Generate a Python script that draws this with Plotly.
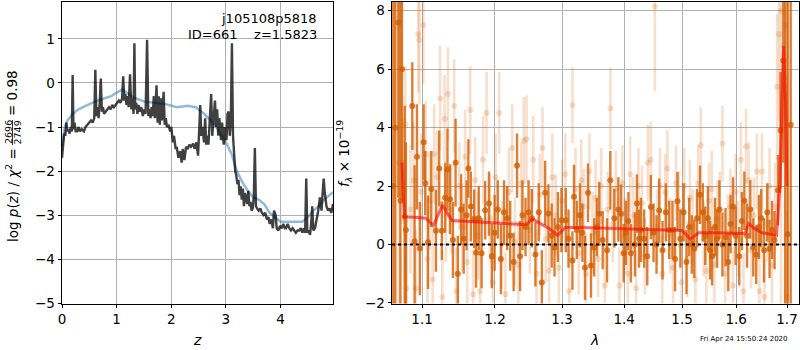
import plotly.graph_objects as go
import math

# ---------------- Left panel: p(z) ----------------
z_pz = [0.00,0.02,0.04,0.06,0.08,0.10,0.12,0.14,0.16,0.18,0.195,0.21,0.23,0.25,0.28,0.30,0.33,0.36,0.40,0.43,
        0.46,0.50,0.53,0.56,0.59,0.61,0.63,0.65,0.67,0.69,0.71,0.73,0.75,0.77,0.80,0.83,0.86,0.89,0.92,0.95,
        0.98,1.01,1.04,1.07,1.10,1.12,1.14,1.16,1.18,1.20,1.22,1.245,1.27,1.29,1.31,1.325,1.34,1.36,1.38,1.40,
        1.42,1.45,1.48,1.50,1.53,1.557,1.58,1.60,1.62,1.64,1.66,1.68,1.70,1.73,1.75,1.77,1.79,1.81,1.83,1.86,
        1.88,1.90,1.92,1.95,1.98,2.00,2.03,2.05,2.08,2.10,2.13,2.16,2.19,2.21,2.24,2.27,2.30,2.33,2.36,2.40,
        2.43,2.46,2.49,2.51,2.53,2.55,2.57,2.60,2.62,2.64,2.66,2.68,2.70,2.73,2.75,2.77,2.80,2.82,2.84,2.86,
        2.88,2.91,2.93,2.96,2.98,3.01,3.03,3.05,3.07,3.09,3.11,3.13,3.15,3.17,3.19,3.21,3.23,3.25,3.27,3.29,
        3.31,3.33,3.35,3.37,3.39,3.41,3.43,3.45,3.47,3.49,3.51,3.53,3.55,3.57,3.60,3.63,3.66,3.69,3.72,3.75,
        3.78,3.80,3.83,3.86,3.88,3.91,3.93,3.96,3.99,4.02,4.05,4.08,4.10,4.13,4.16,4.19,4.22,4.25,4.28,4.31,
        4.34,4.37,4.40,4.43,4.45,4.47,4.49,4.51,4.54,4.56,4.58,4.60,4.63,4.66,4.69,4.72,4.75,4.77,4.79,4.81,
        4.84,4.87,4.90,4.93,4.96]
logpz = [-1.70,-1.30,-1.15,-1.20,-0.90,-1.10,-1.05,-1.15,-1.00,-1.10,0.18,-1.05,-0.90,-1.10,-1.10,-1.00,-1.10,-1.05,-1.10,-1.00,
         -0.95,-0.90,-0.85,-0.90,-0.80,0.30,-0.75,-0.55,-0.80,-0.45,0.10,-0.65,-0.55,-0.70,-0.65,-0.60,-0.55,-0.60,-0.50,-0.55,
         -0.50,-0.45,-0.40,-0.45,-0.35,0.15,-0.40,-0.25,-0.50,-0.30,-0.55,0.20,-0.60,-0.35,-0.70,0.90,-0.60,-0.45,-0.70,-0.50,
         -0.65,-0.55,-0.75,-0.60,-0.70,0.98,-0.75,-0.60,-0.80,-0.55,-0.75,-0.30,-0.80,-0.05,-0.90,-0.30,-0.95,-0.35,-0.85,-0.20,
         -0.95,-0.80,-1.00,-0.95,-1.10,-1.00,-1.35,-1.20,-1.50,-1.45,-1.70,-1.55,-1.81,-1.50,-1.75,-1.45,-1.50,-1.40,-1.45,-1.38,
         -1.50,-1.35,-1.65,-1.10,-0.50,-1.20,-1.00,-1.35,-0.80,-1.40,-1.20,-1.40,-0.80,-0.25,-1.20,-0.90,-0.40,-1.00,-0.60,-1.20,
         -0.80,-1.30,-0.90,-1.40,-1.00,-1.30,-0.70,-0.65,-1.20,-0.90,0.90,-1.20,-1.60,-2.00,-2.10,-2.30,-2.20,-2.55,-2.35,-2.65,
         -2.40,-2.80,-2.50,-2.60,-2.75,-2.45,-2.80,-2.70,-2.90,-2.85,-2.60,-1.48,-2.80,-2.85,-2.90,-2.85,-2.95,-3.00,-2.95,-3.10,
         -3.05,-3.20,-3.10,-3.30,-2.90,-3.00,-3.30,-3.35,-3.25,-3.30,-3.20,-3.30,-3.30,-3.20,-3.30,-3.35,-3.30,-3.35,-3.40,-3.35,
         -3.35,-3.30,-3.40,-3.30,-3.40,-2.17,-3.40,-3.35,-3.45,-3.20,-2.80,-3.35,-3.30,-3.10,-2.90,-2.60,-2.90,-2.50,-2.17,-2.50,
         -2.80,-2.90,-2.85,-2.95,-2.75]

z_prior = [0.00,0.05,0.10,0.20,0.30,0.50,0.70,0.90,1.10,1.30,1.50,1.70,1.90,2.10,2.30,2.45,2.60,2.80,3.00,3.10,
           3.20,3.30,3.40,3.50,3.60,3.70,3.80,3.90,4.00,4.10,4.30,4.40,4.50,4.60,4.70,4.80,4.96]
logp_prior = [-1.45,-1.00,-0.85,-0.70,-0.60,-0.48,-0.38,-0.30,-0.15,-0.32,-0.42,-0.45,-0.48,-0.55,-0.52,-0.55,-0.70,-0.95,-1.35,-1.60,
              -2.00,-2.25,-2.45,-2.60,-2.65,-2.75,-2.95,-3.05,-3.15,-3.15,-3.16,-3.15,-3.05,-2.90,-2.80,-2.65,-2.48]

# ---------------- Right panel: spectrum ----------------
dark_wave = [1.0630,1.0655,1.0694,1.0720,1.0740,1.0775,1.0790,1.0873,1.0903,1.0934,1.0971,1.1021,1.1042,1.1079,1.1122,1.1184,1.1228,1.1263,1.1307,1.1339,
             1.1373,1.1413,1.1449,1.1480,1.1525,1.1560,1.1600,1.1625,1.1660,1.1706,1.1732,1.1770,1.1810,1.1860,1.1914,1.1955,1.1995,1.2040,1.2085,1.2130,
             1.2175,1.2220,1.2270,1.2320,1.2365,1.2400,1.2445,1.2490,1.2540,1.2593,1.2643,1.2690,1.2740,1.2790,1.2840,1.2883,1.2935,1.2990,1.3057,1.3100,
             1.3161,1.3186,1.3230,1.3281,1.3319,1.3360,1.3408,1.3456,1.3508,1.3550,1.3589,1.3645,1.3716,1.3770,1.3836,1.3902,1.3947,1.3990,1.4028,1.4070,
             1.4112,1.4180,1.4214,1.4250,1.4281,1.4337,1.4390,1.4452,1.4498,1.4550,1.4596,1.4655,1.4713,1.4770,1.4830,1.4875,1.4918,1.4970,1.5027,1.5080,
             1.5129,1.5175,1.5220,1.5270,1.5325,1.5375,1.5420,1.5470,1.5510,1.5547,1.5600,1.5640,1.5684,1.5740,1.5797,1.5850,1.5893,1.5940,1.5989,1.6059,
             1.6110,1.6157,1.6209,1.6272,1.6330,1.6387,1.6440,1.6485,1.6540,1.6605,1.6650,1.6700,1.6750,1.6818,1.6870,1.6925,1.6965,1.7014,1.7075]
dark_flux = [2.0,4.0,7.6,1.5,6.0,0.95,0.5,4.74,0.11,3.0,-0.14,3.5,2.1,0.08,1.9,0.47,2.6,0.47,1.6,2.57,
             1.55,0.15,2.8,-1.0,1.2,0.2,1.0,2.6,1.3,0.88,-0.28,0.9,-0.3,1.17,1.4,-0.4,0.4,1.2,-0.5,1.1,
             0.9,0.3,-0.6,2.7,-0.4,1.0,0.6,1.1,0.9,-0.34,1.1,-1.3,1.77,1.06,0.3,-0.1,0.6,0.83,0.83,0.2,
             -0.55,1.63,0.5,1.0,0.4,-0.8,1.77,-0.72,-0.1,0.6,1.05,0.15,-0.2,2.2,0.9,1.2,1.05,-0.3,0.4,0.8,
             -0.3,0.0,1.4,0.2,0.5,0.2,-0.4,1.28,0.4,0.0,1.16,-0.2,1.1,0.5,0.5,-0.5,1.48,0.2,1.1,-0.6,
             0.6,0.0,-0.15,0.9,1.7,1.1,0.3,0.9,-0.2,-0.4,0.6,0.2,1.2,0.0,0.25,-0.6,0.7,1.3,0.3,-0.4,
             0.8,1.5,0.3,1.2,-0.1,-0.35,0.6,0.9,-0.2,1.1,-0.15,0.5,0.15,1.86,3.9,6.3,9.0,0.35,4.1]
dark_err = [15,15,6,15,4.5,3.8,3.0,1.5,2.6,1.8,1.6,1.3,1.1,1.6,1.3,1.4,1.3,1.0,1.2,1.4,
            1.2,1.3,1.5,1.3,1.2,1.2,1.2,1.0,1.2,1.0,1.2,1.1,1.2,1.0,1.1,1.1,1.3,1.0,1.2,1.1,
            1.1,1.2,1.0,1.1,1.2,1.2,1.0,1.1,1.0,1.1,1.0,1.1,1.1,1.0,1.1,1.0,1.2,1.1,1.1,1.0,
            1.0,1.1,1.0,1.1,1.0,1.1,1.0,1.1,1.0,1.0,1.1,1.0,1.1,1.0,1.0,1.1,1.0,1.0,1.1,1.0,
            1.0,1.1,1.0,1.0,1.1,1.0,1.0,1.1,1.0,1.0,1.1,1.0,1.0,1.0,1.0,1.1,1.0,1.0,1.0,1.1,
            1.0,1.0,1.0,1.0,1.0,1.0,1.0,1.1,1.0,1.0,1.0,1.0,1.0,1.1,1.0,1.0,1.0,1.0,1.0,1.0,
            1.0,1.0,1.1,1.0,1.0,1.0,1.1,1.0,1.1,1.0,1.0,1.0,1.0,1.2,2.0,3.5,12,12,12]

light_wave = [1.0700,1.0759,1.0780,1.0800,1.0783,1.0850,1.0890,1.0920,1.0950,1.0965,1.0990,1.1017,1.1050,1.1070,1.1100,1.1140,1.1160,1.1200,1.1240,1.1270,
              1.1300,1.1320,1.1345,1.1390,1.1430,1.1460,1.1500,1.1540,1.1580,1.1610,1.1650,1.1690,1.1720,1.1760,1.1790,1.1830,1.1880,1.1930,1.1970,1.2010,
              1.2060,1.2100,1.2150,1.2200,1.2250,1.2290,1.2340,1.2380,1.2420,1.2460,1.2510,1.2560,1.2610,1.2660,1.2700,1.2750,1.2800,1.2850,1.2900,1.2950,
              1.3000,1.3050,1.3110,1.3163,1.3210,1.3260,1.3300,1.3340,1.3380,1.3430,1.3480,1.3530,1.3570,1.3620,1.3680,1.3730,1.3772,1.3810,1.3860,1.3920,
              1.3970,1.4010,1.4060,1.4100,1.4150,1.4200,1.4240,1.4300,1.4350,1.4400,1.4450,1.4522,1.4560,1.4610,1.4650,1.4700,1.4740,1.4790,1.4840,1.4890,
              1.4940,1.4990,1.5040,1.5090,1.5140,1.5190,1.5240,1.5290,1.5340,1.5390,1.5440,1.5490,1.5540,1.5590,1.5640,1.5690,1.5740,1.5790,1.5840,1.5890,
              1.5940,1.5990,1.6040,1.6090,1.6140,1.6190,1.6240,1.6290,1.6340,1.6400,1.6450,1.6500,1.6550,1.6600,1.6650,1.6700,1.6760,1.6800,1.6840,1.6880,
              1.6960,1.7000]
light_flux = [2.8,2.8,0.8,-1.5,4.1,1.2,2.2,-1.5,7.2,7.0,1.8,7.5,3.1,-0.5,1.5,-1.2,3.1,2.3,5.0,-1.8,
              4.3,1.0,5.15,1.2,4.74,-1.6,2.0,0.6,3.0,-0.6,4.6,-1.7,2.2,0.3,-1.6,2.9,4.5,0.9,-1.3,2.3,
              4.5,0.0,-1.7,1.8,3.3,0.1,-0.7,2.1,3.55,3.6,0.5,2.9,-1.0,1.7,3.3,0.2,-0.9,2.3,1.0,-0.8,
              1.5,2.4,-1.6,4.77,1.9,-0.3,2.2,1.3,-1.0,2.5,0.4,1.6,-0.5,2.0,-1.4,1.2,4.66,0.7,1.9,-1.4,
              2.1,0.3,-1.0,2.4,1.0,-1.5,2.0,1.4,-0.4,2.8,2.9,8.15,0.6,2.0,-1.0,1.8,2.6,0.3,-0.8,2.1,
              1.2,-1.3,2.0,-0.5,1.6,0.6,-1.2,2.1,3.4,0.2,-0.9,1.5,1.9,-0.7,0.9,1.2,3.45,-1.0,0.4,1.3,
              -1.4,1.8,0.2,2.9,-1.6,3.35,2.2,-0.2,1.0,2.5,-1.6,2.5,-1.8,0.7,2.0,-0.7,1.3,5.4,7.2,8.0,
              7.5,-1.8]
light_err = [10,1.5,2.0,2.5,2.0,2.2,2.0,2.0,2.0,2.2,2.0,2.0,1.8,1.8,1.7,1.8,1.7,1.6,1.8,1.6,
             1.5,1.6,1.6,1.5,1.6,1.5,1.5,1.5,1.6,1.5,1.5,1.5,1.5,1.5,1.5,1.5,1.4,1.5,1.5,1.5,
             1.4,1.5,1.4,1.5,1.5,1.5,1.5,1.4,1.5,1.5,1.5,1.5,1.5,1.4,1.4,1.5,1.5,1.5,1.4,1.4,
             1.4,1.4,1.4,1.3,1.4,1.4,1.4,1.3,1.4,1.3,1.4,1.3,1.3,1.3,1.4,1.3,1.4,1.3,1.3,1.3,
             1.3,1.3,1.3,1.3,1.3,1.3,1.3,1.3,1.3,1.3,1.3,2.9,1.3,1.3,1.3,1.3,1.3,1.3,1.3,1.3,
             1.3,1.3,1.3,1.3,1.3,1.3,1.3,1.3,1.3,1.3,1.3,1.3,1.3,1.3,1.3,1.3,1.3,1.3,1.3,1.3,
             1.3,1.3,1.3,1.3,1.3,1.3,1.3,1.3,1.3,1.3,1.3,1.3,1.3,1.3,1.3,1.3,1.5,2.5,3.0,12,
             12,3.0]

model_wave = [1.0740,1.0755,1.0770,1.0900,1.1050,1.1150,1.1270,1.1400,1.1700,1.2000,1.2300,1.2450,1.2550,1.2700,1.2800,1.2930,1.3050,1.3300,1.3600,1.4000,
              1.4500,1.5000,1.5150,1.5300,1.5600,1.6000,1.6170,1.6240,1.6350,1.6500,1.6700,1.6790,1.6850,1.6930,1.6970,1.7000]
model_flux = [2.8,1.5,0.95,0.93,0.90,0.65,1.35,0.82,0.78,0.74,0.70,0.68,0.87,0.68,0.55,0.32,0.58,0.58,0.56,0.53,
              0.50,0.48,0.18,0.40,0.40,0.38,0.38,0.72,0.55,0.40,0.35,0.32,1.8,6.8,5.0,2.0]

# ---------------- Labels ----------------
left_xticks = [0, 1, 2, 3, 4]
left_yticks = [-5, -4, -3, -2, -1, 0, 1]
right_xticks = [1.1, 1.2, 1.3, 1.4, 1.5, 1.6, 1.7]
right_xticktext = ["1.1", "1.2", "1.3", "1.4", "1.5", "1.6", "1.7"]
right_yticks = [-2, 0, 2, 4, 6, 8]
chi2_num, chi2_den, chi2_red = "2696", "2749", "0.98"

FONT = "DejaVu Sans"
ORANGE_DARK = "rgba(213,94,0,0.8)"
ORANGE_LIGHT = "rgba(213,94,0,0.2)"

fig = go.Figure()

fig.add_trace(go.Scatter(x=z_prior, y=logp_prior, mode="lines",
                         line=dict(color="rgba(31,119,180,0.5)", width=2.5),
                         xaxis="x", yaxis="y", showlegend=False))
fig.add_trace(go.Scatter(x=z_pz, y=logpz, mode="lines",
                         line=dict(color="rgba(0,0,0,0.75)", width=2.4),
                         xaxis="x", yaxis="y", showlegend=False))

fig.add_trace(go.Scatter(x=light_wave, y=light_flux, mode="markers",
                         marker=dict(color=ORANGE_LIGHT, size=6, line=dict(width=0)),
                         error_y=dict(type="data", array=light_err, visible=True,
                                      color=ORANGE_LIGHT, thickness=2.6, width=0),
                         xaxis="x2", yaxis="y2", showlegend=False))
fig.add_trace(go.Scatter(x=dark_wave, y=dark_flux, mode="markers",
                         marker=dict(color=ORANGE_DARK, size=6, line=dict(width=0)),
                         error_y=dict(type="data", array=dark_err, visible=True,
                                      color=ORANGE_DARK, thickness=2.4, width=0),
                         xaxis="x2", yaxis="y2", showlegend=False))
fig.add_trace(go.Scatter(x=model_wave, y=model_flux, mode="lines",
                         line=dict(color="rgba(255,0,0,0.6)", width=3),
                         xaxis="x2", yaxis="y2", showlegend=False))

W, H = 800, 350
lx0, lx1 = 62 / W, 333 / W
rx0, rx1 = 392 / W, 799 / W
y0, y1 = 1 - 303.5 / H, 1 - 2 / H

def px(x):
    return x / W

def py(y):
    return 1 - y / H

axis_common = dict(showgrid=True, gridcolor="#b0b0b0", gridwidth=1,
                   showline=True, linecolor="black", linewidth=1, mirror=True,
                   ticks="outside", ticklen=3.5, tickcolor="black", tickwidth=1,
                   tickfont=dict(family=FONT, size=13.5, color="black"),
                   zeroline=False, automargin=False)

def ann(text, x, y, size=13.5, xanchor="center", yanchor="middle", angle=0):
    return dict(text=text, x=px(x), y=py(y), xref="paper", yref="paper",
                xanchor=xanchor, yanchor=yanchor, showarrow=False, textangle=angle,
                font=dict(family=FONT, size=size, color="black"))

fig.update_layout(
    width=W, height=H,
    margin=dict(l=0, r=0, t=0, b=0, autoexpand=False),
    paper_bgcolor="white", plot_bgcolor="white",
    xaxis=dict(domain=[lx0, lx1], range=[0, 4.96], tickvals=left_xticks, anchor="y", **axis_common),
    yaxis=dict(domain=[y0, y1], range=[-5.01, 1.84], tickvals=left_yticks, anchor="x", **axis_common),
    xaxis2=dict(domain=[rx0, rx1], type="log", range=[math.log10(1.0613), math.log10(1.7245)],
                tickvals=right_xticks, ticktext=right_xticktext, anchor="y2", **axis_common),
    yaxis2=dict(domain=[y0, y1], range=[-2.02, 8.3], tickvals=right_yticks, anchor="x2", **axis_common),
    shapes=[
        dict(type="line", xref="x2 domain", yref="y2", x0=0, x1=1, y0=0, y1=0,
             line=dict(color="black", width=2, dash="dot"), layer="above"),
        # fraction bar of the stacked chi2 ratio in the rotated y-axis label
        dict(type="line", xref="paper", yref="paper", x0=px(12.5), x1=px(12.5),
             y0=py(145), y1=py(120), line=dict(color="black", width=0.8)),
    ],
    annotations=[
        ann("j105108p5818", 319, 19, size=13, xanchor="right"),
        ann("ID=661\u00a0\u00a0\u00a0\u00a0z=1.5823", 319, 35, size=13, xanchor="right"),
        ann("<i>z</i>", 197, 340, size=14),
        ann("<i>λ</i>", 594, 340, size=14),
        ann("log <i>p</i>(<i>z</i>) / <i>χ</i><sup>2</sup> =", 12, 195, angle=-90),
        ann(chi2_num, 8.5, 132.5, size=9.5, angle=-90),
        ann(chi2_den, 17, 132.5, size=9.5, angle=-90),
        ann("= " + chi2_red, 12, 93, angle=-90),
        ann("<i>f</i><sub><i>λ</i></sub> × 10<sup>−19</sup>", 344, 154, angle=-90),
        ann("Fri Apr 24 15:50:24 2020", 744, 339, size=7),
    ],
)

fig.write_html("out.html", config={"displayModeBar": False},
               post_script="document.body.style.margin='0';document.body.style.overflow='hidden';")
